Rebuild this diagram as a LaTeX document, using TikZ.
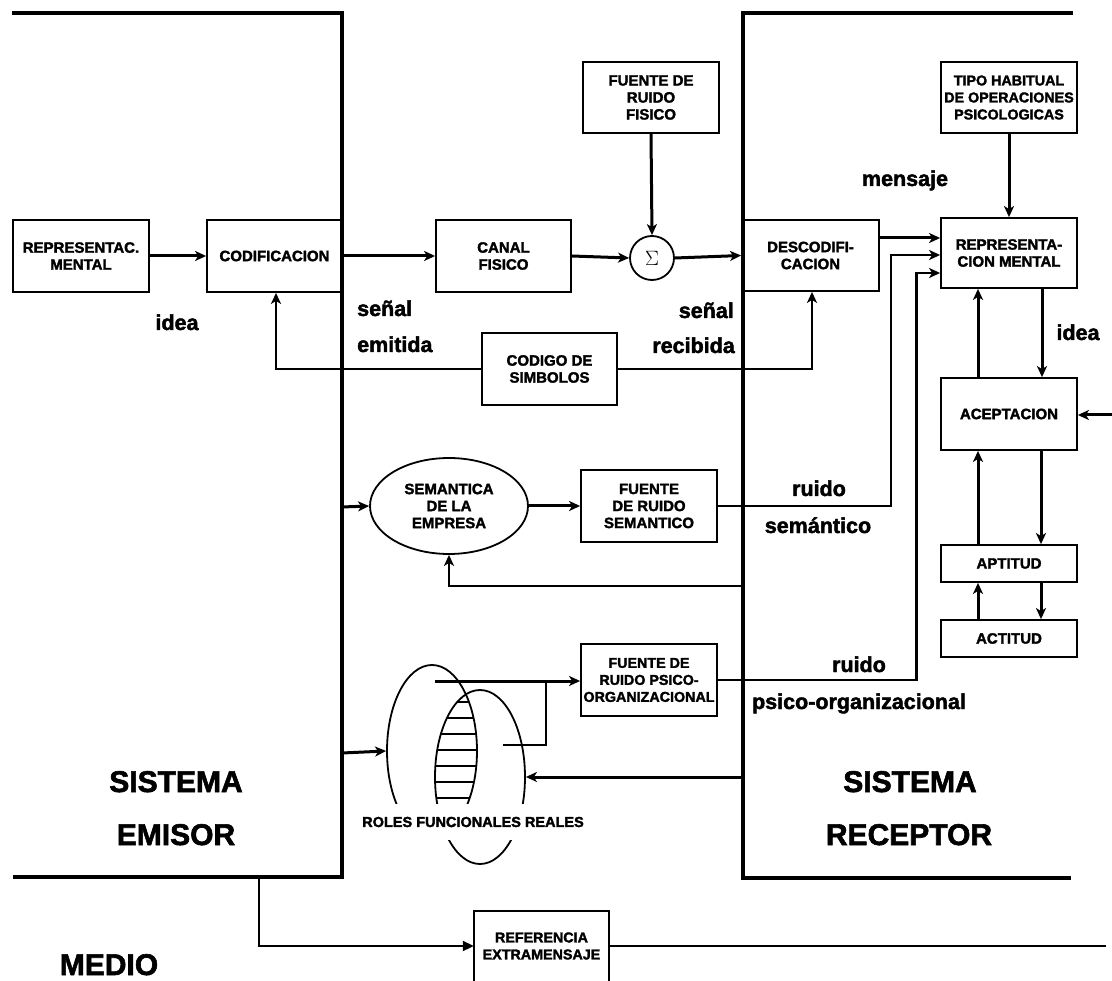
\documentclass[tikz,border=0pt]{standalone}
\usepackage{fontspec}
\setmainfont{Liberation Sans}[BoldFeatures={FakeBold=2}]
\usetikzlibrary{arrows.meta,shapes.geometric}
\newcommand\bxfont{\fontsize{15}{17}\selectfont\bfseries}
\newcommand\bxsfont{\fontsize{14.3}{17}\selectfont\bfseries}
\newcommand\rlfont{\fontsize{14.5}{16}\selectfont\bfseries}
\newcommand\lbfont{\fontsize{21.5}{24}\selectfont\bfseries}
\newcommand\bgfont{\fontsize{30}{34}\selectfont\bfseries}
\begin{document}
\begin{tikzpicture}[x=1pt,y=-1pt,
  box/.style={draw, line width=1.8, inner sep=0pt, align=center, font=\bxfont},
  arr/.style={line width=3, -{Stealth[length=11pt,width=10pt,inset=3pt]}},
  arrm/.style={line width=2.2, -{Stealth[length=11pt,width=10pt,inset=3pt]}},
  thinl/.style={line width=2},
  lab/.style={font=\lbfont, inner sep=0pt, anchor=base},
  big/.style={font=\bgfont, inner sep=0pt, anchor=base},
  sysb/.style={line width=4, line join=miter}]
\useasboundingbox (0,0) rectangle (1112,981);
% system borders
\draw[sysb] (12,13) -- (342,13) -- (342,877) -- (13,877);
\draw[sysb] (1073,13) -- (742.5,13) -- (742.5,878) -- (1071,878);
% boxes
\node[box, minimum width=136, minimum height=72] (rep) at (81,256) {REPRESENTAC.\\MENTAL};
\node[box, minimum width=135, minimum height=72] (cod) at (274.5,256) {CODIFICACION};
\node[box, minimum width=135, minimum height=72] (canal) at (503.5,256) {CANAL\\FISICO};
\node[box, minimum width=136, minimum height=71] (ffis) at (651,97.5) {FUENTE DE\\RUIDO\\FISICO};
\node[circle, draw, line width=1.8, minimum size=44, inner sep=0pt] (sig) at (652,258) {\fontsize{22}{22}\selectfont$\Sigma$};
\node[box, minimum width=137, minimum height=71] (desc) at (810.5,255.5) {DESCODIFI-\\CACION};
\node[box, minimum width=136, minimum height=71, font=\bxsfont] (tipo) at (1009,97.5) {TIPO HABITUAL\\DE OPERACIONES\\PSICOLOGICAS};
\node[box, minimum width=136, minimum height=70] (repm) at (1009,253) {REPRESENTA-\\CION MENTAL};
\node[box, minimum width=135, minimum height=72] (csim) at (549.5,369) {CODIGO DE\\SIMBOLOS};
\node[box, minimum width=136, minimum height=72] (acep) at (1009,414) {ACEPTACION};
\node[box, minimum width=136, minimum height=37] (apt) at (1009,563.5) {APTITUD};
\node[box, minimum width=136, minimum height=37] (act) at (1009,638.5) {ACTITUD};
\node[ellipse, draw, line width=1.8, minimum width=158, minimum height=96, inner sep=0pt, align=center, font=\bxfont] (sem) at (449,506) {SEMANTICA\\DE LA\\EMPRESA};
\node[box, minimum width=136, minimum height=72] (fsem) at (649,506) {FUENTE\\DE RUIDO\\SEMANTICO};
\node[box, minimum width=136, minimum height=72, font=\bxsfont] (fpsi) at (649,680) {FUENTE DE\\RUIDO PSICO-\\ORGANIZACIONAL};
\node[align=center, inner sep=0pt, minimum width=135, minimum height=70, font=\bxsfont] (ref) at (541.5,946) {REFERENCIA\\EXTRAMENSAJE};
\draw[line width=1.8] ([yshift=-12]ref.south west) -- (ref.north west) -- (ref.north east) -- ([yshift=-12]ref.south east);
% roles ellipses
\node[ellipse, draw, line width=1.8, minimum width=90, minimum height=172, inner sep=0pt] (r1) at (432,751) {};
\node[ellipse, draw, line width=1.8, minimum width=90, minimum height=174, inner sep=0pt] (r2) at (480,777) {};
\begin{scope}
\clip (432,751) ellipse [x radius=45, y radius=86];
\clip (480,777) ellipse [x radius=45, y radius=87];
\foreach \yy in {702,718,734,750,766,782,798} \draw[line width=1.5] (380,\yy) -- (540,\yy);
\end{scope}
% coordinates
\coordinate (c1) at (891,255);
\coordinate (c2) at (916.5,273);
\coordinate (rin) at (1112,415);
\coordinate (cl) at (276,369);
\coordinate (cr) at (812,369);
\coordinate (bl1) at (342,507);
\coordinate (br1) at (742.5,586);
\coordinate (p1) at (435,681);
\coordinate (p2) at (503,745);
\coordinate (p3) at (546,681);
\coordinate (bl2) at (342,753);
\coordinate (br2) at (742.5,777);
\coordinate (m1) at (259,877);
\coordinate (m2) at (1106,946);
% connectors
\draw[arr] (rep.east) -- (cod.west);
\draw[arr] (cod.east) -- (canal.west);
\draw[arr] (canal.east) -- (sig.west);
\draw[arr] (ffis.south) -- (sig.north);
\draw[arr] (sig.east) -- (desc.west);
\draw[arr] ([yshift=17.5]desc.east) -- ([yshift=15]repm.west);
\draw[arrm] (fsem.east) -| (c1) -- (repm.west |- c1);
\draw[arrm] (fpsi.east) -| (c2) -- (repm.west |- c2);
\draw[arr] (tipo.south) -- (repm.north);
\draw[arr] ([xshift=33]repm.south) -- ([xshift=33]acep.north);
\draw[arr] ([xshift=-31]acep.north) -- ([xshift=-31]repm.south);
\draw[arr] (rin) -- (acep.east |- rin);
\draw[arr] ([xshift=32]acep.south) -- ([xshift=32]apt.north);
\draw[arr] ([xshift=-31]apt.north) -- ([xshift=-31]acep.south);
\draw[arr] ([xshift=32]apt.south) -- ([xshift=32]act.north);
\draw[arr] ([xshift=-31]act.north) -- ([xshift=-31]apt.south);
\draw[arrm] (csim.west) -| (cod.south -| cl);
\draw[arrm] (csim.east) -| (desc.south -| cr);
\draw[arr] (bl1) -- (sem.west);
\draw[arr] (sem.east) -- (fsem.west);
\draw[arrm] (br1) -| (sem.south);
\draw[arr] (p1) -- (fpsi.west |- p1);
\draw[thinl] (p2) -| (p3);
\draw[arr] (bl2) -- (r1.west);
\draw[arr] (br2) -- (r2.east);
\draw[thinl, -{Triangle[length=11pt,width=10pt]}] (m1) |- (ref.west);
\draw[thinl] (ref.east) -- (m2);
% labels
\node[lab] (l1) at (177,330) {idea};
\node[lab, anchor=base west] (l2) at (357,316) {señal};
\node[lab, anchor=base west] (l3) at (357,352) {emitida};
\node[lab, anchor=base east] (l4) at (734,318) {señal};
\node[lab, anchor=base east] (l5) at (735,353) {recibida};
\node[lab] (l6) at (905,186) {mensaje};
\node[lab] (l7) at (1078,340) {idea};
\node[lab] (l8) at (819,496) {ruido};
\node[lab] (l9) at (818,533) {semántico};
\node[lab] (l10) at (859,672) {ruido};
\node[lab] (l11) at (859,709) {psico-organizacional};
\node[big] (s1) at (176,792) {SISTEMA};
\node[big] (s2) at (176,845) {EMISOR};
\node[big] (s3) at (910,792) {SISTEMA};
\node[big] (s4) at (909,845) {RECEPTOR};
\node[big] (s5) at (109,975) {MEDIO};
\node[fill=white, inner xsep=2pt, inner ysep=0pt, minimum height=36, font=\rlfont] (roles) at (473,822) {ROLES FUNCIONALES REALES};
\end{tikzpicture}
\end{document}
